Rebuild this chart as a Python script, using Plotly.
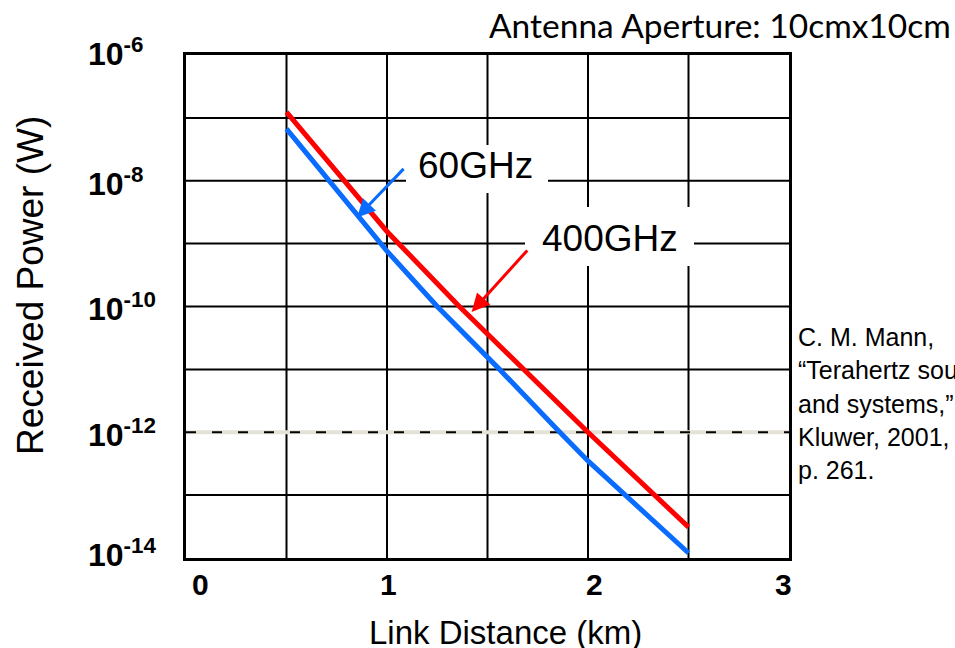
import plotly.graph_objects as go

# Received power vs. link distance (antenna aperture 10 cm x 10 cm)
dist_400 = [0.5, 0.79, 1.0, 1.36, 1.68, 2.0, 2.5]
power_400 = [1.23e-7, 1e-8, 1.56e-9, 1e-10, 1e-11, 1e-12, 3.1e-14]

dist_60 = [0.5, 0.71, 1.0, 1.25, 1.56, 1.86, 2.0, 2.5]
power_60 = [6.7e-8, 1e-8, 7.6e-10, 1e-10, 1e-11, 1e-12, 3.5e-13, 1.2e-14]

x_ticks = [0, 1, 2, 3]
x_tick_text = ["0", "1", "2", "3"]
y_exponents = [-6, -8, -10, -12, -14]
x_grid = [0.5, 1.0, 1.5, 2.0, 2.5]
y_grid_exp = [-7, -8, -9, -10, -11, -13]
sensitivity = 1e-12

W, H = 955, 648
L, R, T, B = 186, 166, 55, 90
PW, PH = W - L - R, H - T - B


def px(xp):
    return (xp - L) / PW


def py(yp):
    return 1 - (yp - T) / PH


FONT = "Arial, Liberation Sans, sans-serif"


def label(xp, yp, text, size, xanchor="center", family=FONT, angle=0):
    return dict(x=px(xp), y=py(yp), xref="paper", yref="paper",
                xanchor=xanchor, yanchor="middle", text=text,
                showarrow=False, textangle=angle,
                font=dict(family=family, size=size, color="black"))


fig = go.Figure()
fig.add_trace(go.Scatter(x=dist_400, y=power_400, mode="lines",
                         line=dict(color="#FF0000", width=5), name="400GHz"))
fig.add_trace(go.Scatter(x=dist_60, y=power_60, mode="lines",
                         line=dict(color="#0A6CFF", width=5), name="60GHz"))

shapes = []
# grid
grid_line = dict(color="black", width=2)
for xv in x_grid:
    shapes.append(dict(type="line", xref="x", yref="paper", x0=xv, x1=xv,
                       y0=0, y1=1, layer="below", line=grid_line))
for e in y_grid_exp:
    shapes.append(dict(type="line", xref="paper", yref="y", x0=0, x1=1,
                       y0=10.0 ** e, y1=10.0 ** e, layer="below",
                       line=grid_line))
# white boxes behind the curve labels
shapes.append(dict(type="rect", xref="paper", yref="paper",
                   x0=px(406), x1=px(548), y0=py(193), y1=py(145),
                   layer="below", line=dict(width=0), fillcolor="white"))
shapes.append(dict(type="rect", xref="paper", yref="paper",
                   x0=px(525), x1=px(694), y0=py(266), y1=py(207),
                   layer="below", line=dict(width=0), fillcolor="white"))
# receiver sensitivity level: light base with black dashes
shapes.append(dict(type="line", xref="paper", x0=0, x1=1, yref="y",
                   y0=sensitivity, y1=sensitivity, layer="below",
                   line=dict(color="#E4E2D6", width=4)))
shapes.append(dict(type="line", xref="paper", x0=0, x1=1, yref="y",
                   y0=sensitivity, y1=sensitivity, layer="below",
                   line=dict(color="black", width=2, dash="10px,16px")))

ann = []
# curve labels with arrows
ann.append(dict(x=0.851, y=-8.583, xref="x", yref="y", ax=48, ay=-50,
                showarrow=True, arrowhead=2, arrowsize=1.2, arrowwidth=3,
                arrowcolor="#0A6CFF", text=""))
ann.append(dict(x=1.421, y=-10.086, xref="x", yref="y", ax=57, ay=-63,
                showarrow=True, arrowhead=2, arrowsize=1.2, arrowwidth=3,
                arrowcolor="#FF0000", text=""))
ann.append(label(475, 165, "60GHz", 37))
ann.append(label(610, 238, "400GHz", 37))

# x tick labels
x_label_px = [200, 388, 594, 783]
for xv, txt, xp in zip(x_ticks, x_tick_text, x_label_px):
    ann.append(label(xp, 584, "<b>%s</b>" % txt, 30))

# y tick labels
y_label_py = [52, 182, 307, 433, 553]
for e, yp in zip(y_exponents, y_label_py):
    ann.append(label(86, yp, "<b>10<sup>%d</sup></b>" % e, 32,
                     xanchor="left"))

# axis titles
ann.append(label(505, 632, "Link Distance (km)", 33))
ann.append(label(30, 286, "Received Power (W)", 37, angle=-90))

# header and reference note
ann.append(label(487, 25, "Antenna Aperture: 10cmx10cm", 33.5,
                 xanchor="left", family="Lato, Open Sans, sans-serif"))
note_lines = ["C. M. Mann,", "\u201cTerahertz sources", "and systems,\u201d",
              "Kluwer, 2001,", "p. 261."]
note_py = [337, 370, 404, 437, 470]
for line, yp in zip(note_lines, note_py):
    ann.append(label(796, yp, line, 25, xanchor="left"))

fig.update_layout(
    width=W, height=H,
    margin=dict(l=L, r=R, t=T, b=B),
    paper_bgcolor="white", plot_bgcolor="white",
    showlegend=False,
    shapes=shapes, annotations=ann,
    xaxis=dict(range=[0, 3], showgrid=False, showticklabels=False, ticks="",
               zeroline=False, showline=True, linecolor="black",
               linewidth=3, mirror=True),
    yaxis=dict(type="log", range=[-14, -6], showgrid=False,
               showticklabels=False, ticks="", zeroline=False,
               showline=True, linecolor="black", linewidth=3, mirror=True),
)

fig.write_html("out.html")
